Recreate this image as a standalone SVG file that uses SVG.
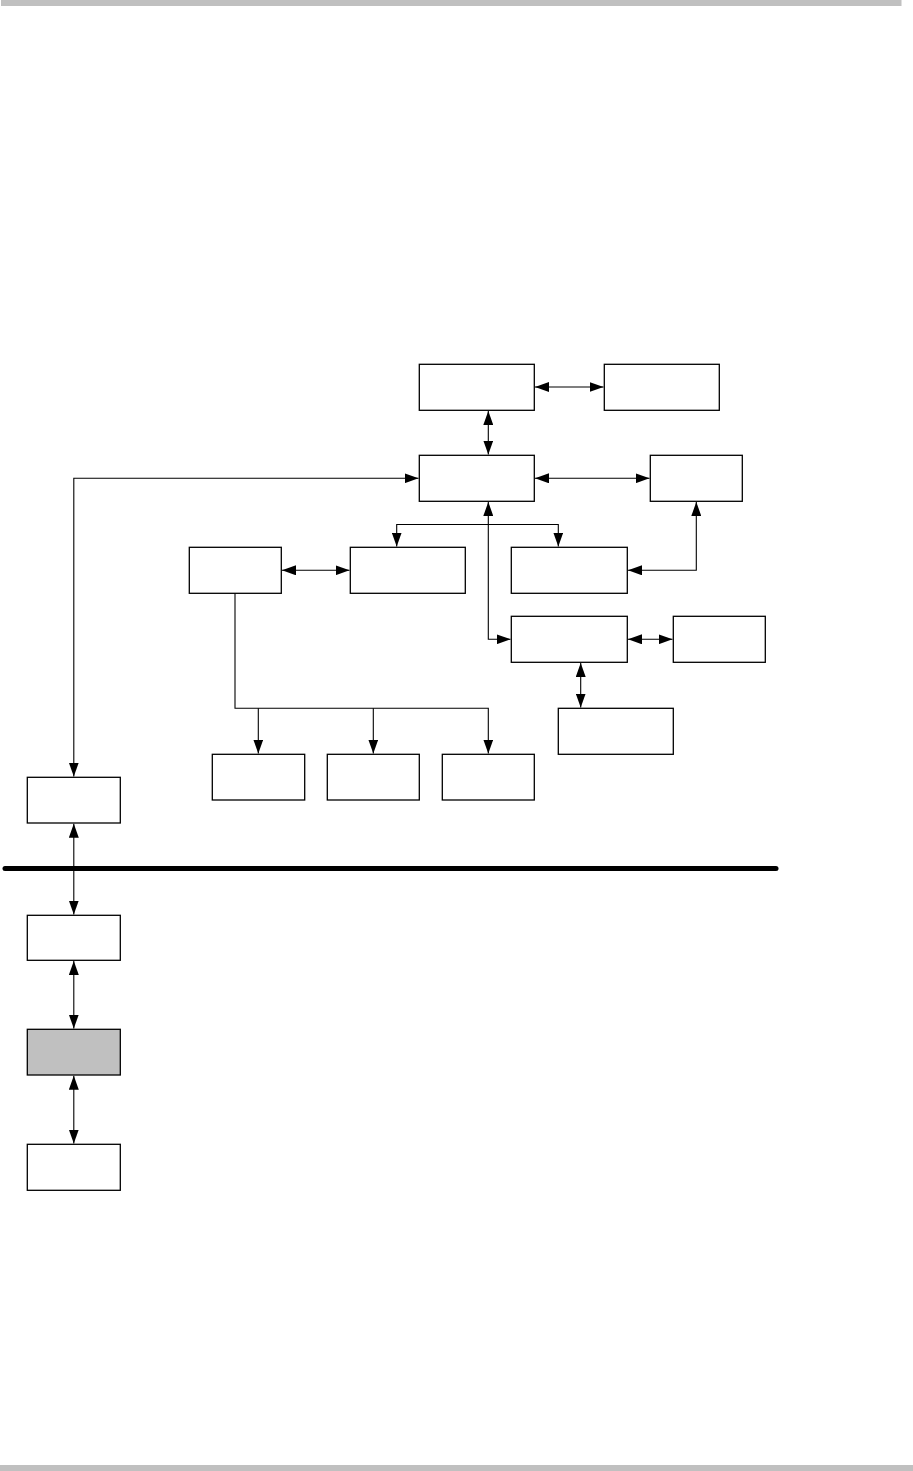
<svg xmlns="http://www.w3.org/2000/svg" width="913" height="1471" viewBox="0 0 913 1471">
<style>
.box{fill:#fff;stroke:#000;stroke-width:1.3}
.grey{fill:#c0c0c0}
.c{fill:none;stroke:#000;stroke-width:1.1;marker-end:url(#ah)}
.b{marker-start:url(#ah)}
.bar{fill:#c0c0c0}
</style>
<defs>
<marker id="ah" markerUnits="userSpaceOnUse" markerWidth="14" markerHeight="10" refX="14" refY="5" orient="auto-start-reverse" viewBox="0 0 14 10">
<path d="M0,0 L14,5 L0,10 z" fill="#000"/>
</marker>
</defs>
<rect class="bar" x="1" y="0" width="900.5" height="6"/>
<rect class="bar" x="0" y="1465" width="913" height="6"/>
<line x1="5" y1="868.5" x2="776" y2="868.5" stroke="#000" stroke-width="5" stroke-linecap="round"/>
<g id="nodes">
<g id="A"><rect class="box" x="419.3" y="364.3" width="115" height="46"/></g>
<g id="B"><rect class="box" x="604.3" y="364.3" width="115" height="46"/></g>
<g id="C"><rect class="box" x="419.3" y="455.3" width="115" height="46"/></g>
<g id="D"><rect class="box" x="650.3" y="455.3" width="92" height="46"/></g>
<g id="E"><rect class="box" x="189.3" y="547.3" width="92" height="46"/></g>
<g id="F"><rect class="box" x="350.3" y="547.3" width="115" height="46"/></g>
<g id="G"><rect class="box" x="511.3" y="547.3" width="116" height="46"/></g>
<g id="H"><rect class="box" x="511.3" y="616.3" width="116" height="46"/></g>
<g id="I"><rect class="box" x="673.3" y="616.3" width="92" height="46"/></g>
<g id="J"><rect class="box" x="558.3" y="708.3" width="115" height="46"/></g>
<g id="K1"><rect class="box" x="212.3" y="754.3" width="92.4" height="45.7"/></g>
<g id="K2"><rect class="box" x="327.3" y="754.3" width="92" height="45.7"/></g>
<g id="K3"><rect class="box" x="442.3" y="754.3" width="92" height="45.7"/></g>
<g id="L1"><rect class="box" x="27.3" y="777.3" width="93" height="45.7"/></g>
<g id="L2"><rect class="box" x="27.3" y="915.3" width="93" height="45"/></g>
<g id="L3"><rect class="box grey" x="27.3" y="1029.3" width="93" height="45.7"/></g>
<g id="L4"><rect class="box" x="27.3" y="1144.3" width="93" height="46"/></g>
</g>
<g id="connectors">
<path class="c b" d="M535,387 H603.5"/>
<path class="c b" d="M488.3,411 V454.5"/>
<path class="c b" d="M535,478.3 H649.5"/>
<path class="c b" d="M418.5,478.3 H73.8 V776.5"/>
<path class="c b" d="M488.3,502 V639.3 H510.5"/>
<path class="c b" d="M396.7,546.5 V524.5 H558.3 V546.5"/>
<path class="c b" d="M696.3,502 V570.3 H628"/>
<path class="c b" d="M282,570.3 H349.5"/>
<path class="c b" d="M628,639.3 H672.5"/>
<path class="c b" d="M580.7,663 V707.5"/>
<path class="c" d="M235,593.5 V708.3 H488.3 V753.5"/>
<path class="c" d="M258.3,708.3 V753.5"/>
<path class="c" d="M373.3,708.3 V753.5"/>
<path class="c b" d="M73.8,823.7 V914.5"/>
<path class="c b" d="M73.8,961 V1028.5"/>
<path class="c b" d="M73.8,1075.7 V1143.5"/>
</g>
</svg>
